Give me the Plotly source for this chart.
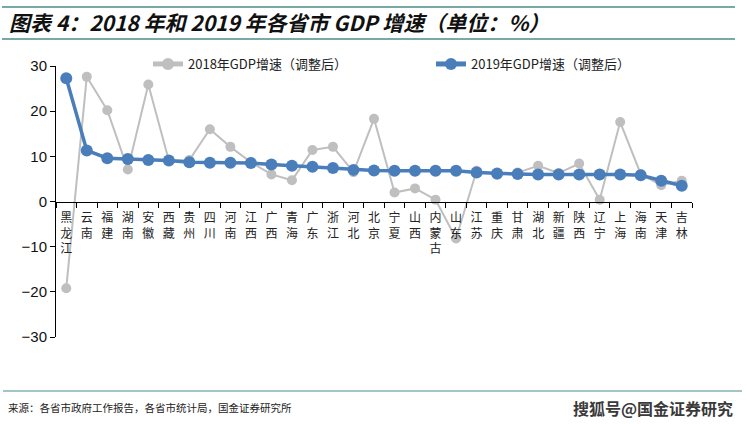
import plotly.graph_objects as go

provinces = ["黑龙江", "云南", "福建", "湖南", "安徽", "西藏", "贵州", "四川", "河南", "江西",
             "广西", "青海", "广东", "浙江", "河北", "北京", "宁夏", "山西", "内蒙古", "山东",
             "江苏", "重庆", "甘肃", "湖北", "新疆", "陕西", "辽宁", "上海", "海南", "天津", "吉林"]
gdp2018 = [-19.2, 27.6, 20.2, 7.1, 25.9, 9.1, 9.2, 16.0, 12.1, 8.7,
           6.0, 4.7, 11.4, 12.1, 6.5, 18.3, 2.0, 2.9, 0.4, -8.2,
           6.8, 5.9, 6.4, 7.9, 6.3, 8.4, 0.4, 17.6, 6.1, 3.6, 4.6]
gdp2019 = [27.3, 11.3, 9.6, 9.4, 9.2, 9.1, 8.7, 8.6, 8.6, 8.5,
           8.2, 7.9, 7.7, 7.4, 7.0, 6.85, 6.8, 6.8, 6.8, 6.8,
           6.4, 6.2, 6.1, 6.0, 6.0, 6.0, 6.0, 6.0, 5.8, 4.6, 3.5]
y_ticks = [-30, -20, -10, 0, 10, 20, 30]
name2018 = "2018年GDP增速（调整后）"
name2019 = "2019年GDP增速（调整后）"
title_text = "图表 4：2018 年和 2019 年各省市 GDP 增速（单位：%）"
source_text = "来源：各省市政府工作报告，各省市统计局，国金证券研究所"
watermark = "搜狐号@国金证券研究"

W, H = 747, 424
L, R, T, B = 56, 692, 66, 337
pw, ph = R - L, B - T


def px(x):
    return (x - L) / pw


def py(y):
    return (B - y) / ph


tick_text = ["<br>".join(list(p)) for p in provinces]

fig = go.Figure()
fig.add_trace(go.Scatter(
    x=provinces, y=gdp2018, name=name2018, mode="lines+markers",
    line=dict(color="#BFBFBF", width=2),
    marker=dict(color="#BFBFBF", size=10),
))
fig.add_trace(go.Scatter(
    x=provinces, y=gdp2019, name=name2019, mode="lines+markers",
    line=dict(color="#4A7EBB", width=3.5),
    marker=dict(color="#4A7EBB", size=12),
))

teal = "#4B8B8B"
shapes = [
    dict(type="line", xref="paper", yref="paper", x0=px(2), x1=px(735), y0=py(7), y1=py(7),
         line=dict(color=teal, width=1.5)),
    dict(type="line", xref="paper", yref="paper", x0=px(2), x1=px(735), y0=py(39), y1=py(39),
         line=dict(color=teal, width=1.5)),
    dict(type="line", xref="paper", yref="paper", x0=px(3), x1=px(742), y0=py(391), y1=py(391),
         line=dict(color=teal, width=1.2)),
]

annotations = [
    dict(text=title_text, xref="paper", yref="paper", x=px(7), y=py(22), xanchor="left",
         yanchor="middle", showarrow=False,
         font=dict(family="Noto Sans CJK SC, Liberation Sans, sans-serif", size=21,
                   color="#111111", weight="bold", style="italic")),
    dict(text=source_text, xref="paper", yref="paper", x=px(6), y=py(407), xanchor="left",
         yanchor="middle", showarrow=False,
         font=dict(family="Noto Sans CJK SC, sans-serif", size=10.5, color="#222222")),
    dict(text=watermark, xref="paper", yref="paper", x=px(735), y=py(408), xanchor="right",
         yanchor="middle", showarrow=False,
         font=dict(family="Noto Sans CJK SC, sans-serif", size=16, color="#3A3A3A", weight="bold")),
]

fig.update_layout(
    width=W, height=H,
    margin=dict(l=L, r=W - R, t=T, b=H - B, pad=0, autoexpand=False),
    paper_bgcolor="white", plot_bgcolor="white",
    showlegend=True,
    legend=dict(orientation="h", x=px(148), y=py(64), xanchor="left", yanchor="middle",
                bgcolor="rgba(0,0,0,0)", entrywidth=238, entrywidthmode="pixels",
                font=dict(family="Noto Sans CJK SC, serif", size=13, color="#222222"),
                itemsizing="constant", traceorder="normal"),
    xaxis=dict(type="category", anchor="free", position=0.5, showline=True, linecolor="#000000",
               linewidth=1, ticks="outside", tickson="boundaries", ticklen=5, tickcolor="#000000",
               tickvals=provinces, ticktext=tick_text, tickangle=0, showgrid=False, automargin=False,
               ticklabelstandoff=5,
               tickfont=dict(family="Noto Sans CJK SC, sans-serif", size=12, color="#222222"),
               range=[-0.5, len(provinces) - 0.5]),
    yaxis=dict(range=[-30, 30], tickvals=y_ticks, showline=True, linecolor="#000000", linewidth=1,
               ticks="outside", ticklen=5, tickcolor="#000000", showgrid=False, zeroline=False,
               automargin=False,
               tickfont=dict(family="Liberation Sans, Arial, sans-serif", size=15, color="#111111")),
    shapes=shapes,
    annotations=annotations,
)

fig.write_html("out.html", config={"displayModeBar": False},
               post_script="document.body.style.margin='0';")
